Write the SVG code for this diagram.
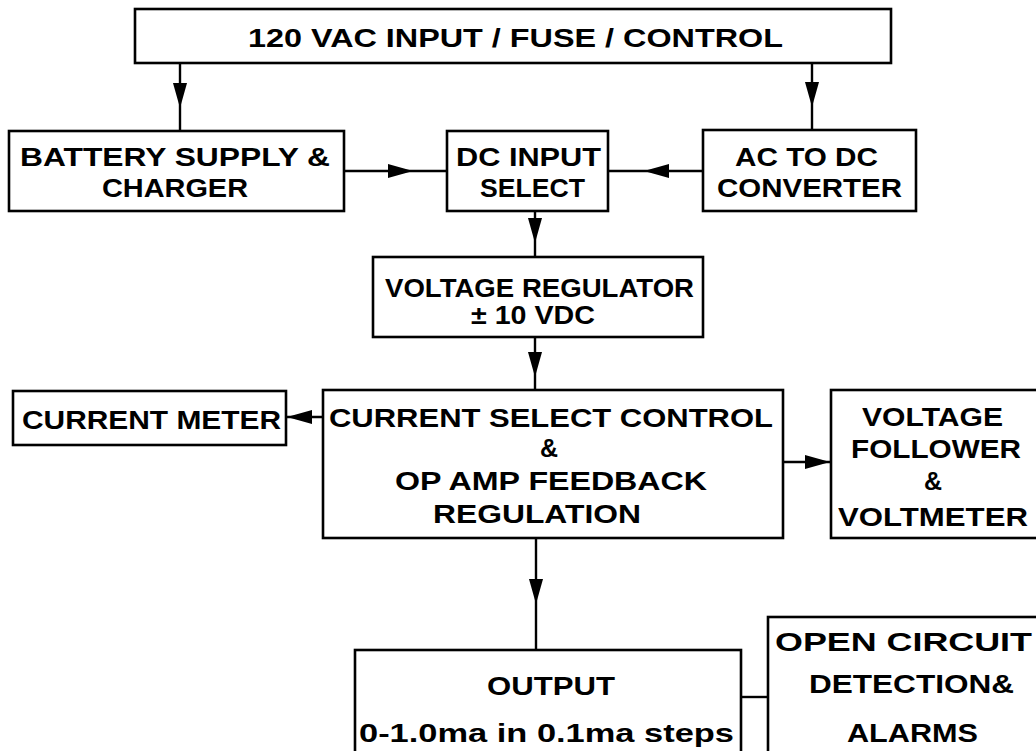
<svg xmlns="http://www.w3.org/2000/svg" width="1036" height="751" viewBox="0 0 1036 751">
<style>
.box{fill:#fff;stroke:#000;stroke-width:2.6}
.ln{fill:none;stroke:#000;stroke-width:2.4}
.t{font-family:"Liberation Sans",Arial,sans-serif;font-weight:bold;font-size:25px;fill:#000;text-anchor:start}
</style>
<defs>
<marker id="ah" markerUnits="userSpaceOnUse" markerWidth="28" markerHeight="16" refX="25" refY="7" orient="auto" overflow="visible">
<path d="M0,0 L25,7 L0,14 Z" fill="#000"/>
</marker>
</defs>
<rect width="1036" height="751" fill="#fff"/>
<g id="connectors">
<path class="ln" d="M180,63 L180,108 L180,131" marker-mid="url(#ah)"/>
<path class="ln" d="M812,63 L812,107 L812,130" marker-mid="url(#ah)"/>
<path class="ln" d="M344,171 L413,171 L447,171" marker-mid="url(#ah)"/>
<path class="ln" d="M703,171 L644,171 L608,171" marker-mid="url(#ah)"/>
<path class="ln" d="M535,211 L535,243 L535,257" marker-mid="url(#ah)"/>
<path class="ln" d="M535,337 L535,377 L535,390" marker-mid="url(#ah)"/>
<path class="ln" d="M323,417 L287,417" marker-end="url(#ah)"/>
<path class="ln" d="M783,462 L830,462" marker-end="url(#ah)"/>
<path class="ln" d="M536,538 L536,604 L536,650" marker-mid="url(#ah)"/>
<path class="ln" d="M741,697 L768,697"/>
</g>
<g id="ac-input">
<rect class="box" x="135" y="9" width="756" height="54"/>
<text class="t" x="248" y="47" font-size="24" textLength="535" lengthAdjust="spacingAndGlyphs">120 VAC  INPUT / FUSE / CONTROL</text>
</g>
<g id="battery">
<rect class="box" x="9" y="131" width="335" height="80"/>
<text class="t" x="20" y="166" textLength="310" lengthAdjust="spacingAndGlyphs">BATTERY SUPPLY &amp;</text>
<text class="t" x="102" y="197" textLength="146" lengthAdjust="spacingAndGlyphs">CHARGER</text>
</g>
<g id="dc-input">
<rect class="box" x="447" y="131" width="161" height="80"/>
<text class="t" x="456" y="166" textLength="145" lengthAdjust="spacingAndGlyphs">DC INPUT</text>
<text class="t" x="480" y="197" textLength="105" lengthAdjust="spacingAndGlyphs">SELECT</text>
</g>
<g id="ac-dc">
<rect class="box" x="703" y="130" width="213" height="81"/>
<text class="t" x="735" y="166" textLength="143" lengthAdjust="spacingAndGlyphs">AC TO DC</text>
<text class="t" x="717" y="197" textLength="185" lengthAdjust="spacingAndGlyphs">CONVERTER</text>
</g>
<g id="regulator">
<rect class="box" x="373" y="257" width="330" height="80"/>
<text class="t" x="385" y="297" textLength="309" lengthAdjust="spacingAndGlyphs">VOLTAGE REGULATOR</text>
<text class="t" x="471" y="324" textLength="124" lengthAdjust="spacingAndGlyphs">± 10 VDC</text>
</g>
<g id="current-meter">
<rect class="box" x="13" y="391" width="273" height="54"/>
<text class="t" x="22" y="429" textLength="259" lengthAdjust="spacingAndGlyphs">CURRENT METER</text>
</g>
<g id="control">
<rect class="box" x="323" y="390" width="460" height="148"/>
<text class="t" x="329" y="427" textLength="444" lengthAdjust="spacingAndGlyphs">CURRENT  SELECT  CONTROL</text>
<text class="t" x="540" y="457">&amp;</text>
<text class="t" x="395" y="490" textLength="312" lengthAdjust="spacingAndGlyphs">OP AMP  FEEDBACK</text>
<text class="t" x="433" y="523" textLength="208" lengthAdjust="spacingAndGlyphs">REGULATION</text>
</g>
<g id="voltage-follower">
<rect class="box" x="831" y="390" width="210" height="148"/>
<text class="t" x="862" y="426" textLength="141" lengthAdjust="spacingAndGlyphs">VOLTAGE</text>
<text class="t" x="851" y="458" textLength="170" lengthAdjust="spacingAndGlyphs">FOLLOWER</text>
<text class="t" x="924" y="490">&amp;</text>
<text class="t" x="838" y="526" textLength="190" lengthAdjust="spacingAndGlyphs">VOLTMETER</text>
</g>
<g id="output">
<rect class="box" x="355" y="650" width="386" height="110"/>
<text class="t" x="487" y="695" textLength="128" lengthAdjust="spacingAndGlyphs">OUTPUT</text>
<text class="t" x="359" y="742" textLength="375" lengthAdjust="spacingAndGlyphs">0-1.0ma  in  0.1ma  steps</text>
</g>
<g id="open-circuit">
<rect class="box" x="768" y="617" width="280" height="143"/>
<text class="t" x="775" y="651" textLength="257" lengthAdjust="spacingAndGlyphs">OPEN  CIRCUIT</text>
<text class="t" x="809" y="693" textLength="205" lengthAdjust="spacingAndGlyphs">DETECTION&amp;</text>
<text class="t" x="847" y="742" textLength="131" lengthAdjust="spacingAndGlyphs">ALARMS</text>
</g>
</svg>
